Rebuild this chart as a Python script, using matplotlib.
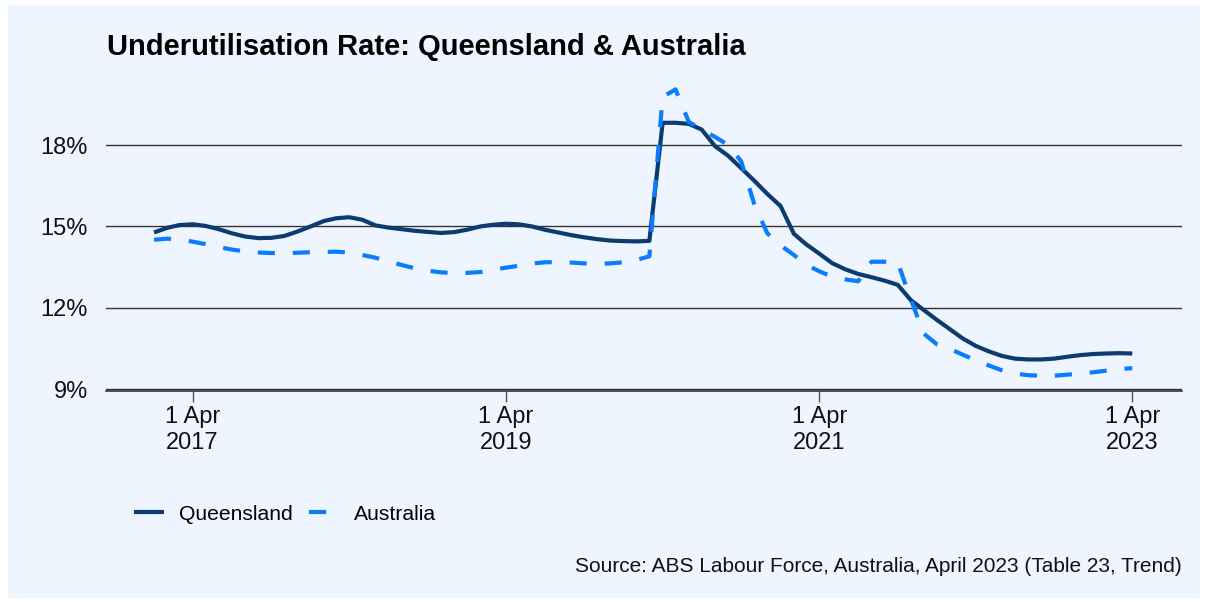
import matplotlib
matplotlib.use('Agg')
import matplotlib.pyplot as plt
from matplotlib.patches import Rectangle
import pandas as pd

# monthly trend data, Jan 2017 - Apr 2023
months = pd.date_range('2017-01-01', '2023-04-01', freq='MS')

queensland = [
    14.78, 14.95, 15.05, 15.08, 15.02, 14.90, 14.75, 14.63, 14.57, 14.58,
    14.65, 14.81, 15.00, 15.20, 15.30, 15.34, 15.25, 15.04, 14.96, 14.90,
    14.84, 14.80, 14.76, 14.79, 14.88, 15.00, 15.06, 15.10, 15.08, 15.00,
    14.88, 14.78, 14.68, 14.60, 14.53, 14.48, 14.46, 14.45, 14.47, 18.82,
    18.82, 18.78, 18.57, 17.96, 17.60, 17.15, 16.68, 16.20, 15.75, 14.73,
    14.35, 14.00, 13.65, 13.42, 13.25, 13.13, 13.00, 12.85, 12.28, 11.92,
    11.55, 11.20, 10.88, 10.60, 10.40, 10.23, 10.13, 10.10, 10.10, 10.13,
    10.20, 10.26, 10.30, 10.32, 10.33, 10.32,
]

australia = [
    14.51, 14.55, 14.52, 14.44, 14.35, 14.24, 14.15, 14.08, 14.04, 14.02,
    14.02, 14.03, 14.05, 14.06, 14.07, 14.04, 13.95, 13.85, 13.72, 13.58,
    13.46, 13.37, 13.31, 13.28, 13.29, 13.32, 13.40, 13.48, 13.55, 13.63,
    13.68, 13.69, 13.67, 13.64, 13.63, 13.64, 13.68, 13.77, 13.90, 19.77,
    20.05, 18.85, 18.58, 18.30, 18.00, 17.40, 15.80, 14.75, 14.30, 13.95,
    13.60, 13.35, 13.15, 13.05, 12.98, 13.70, 13.70, 13.68, 12.30, 11.05,
    10.65, 10.48, 10.28, 10.07, 9.88, 9.70, 9.58, 9.52, 9.50, 9.50,
    9.54, 9.58, 9.63, 9.69, 9.74, 9.78,
]

y_ticks = [9, 12, 15, 18]
x_ticks = ['2017-04-01', '2019-04-01', '2021-04-01', '2023-04-01']

qld_color = '#0C3B6F'
aus_color = '#0A7DFF'
panel_color = '#EEF5FF'


def main():
    plt.rcParams['font.family'] = ['Liberation Sans', 'DejaVu Sans']

    fig = plt.figure(figsize=(12.06, 6.02), dpi=100, facecolor='white')

    # light blue panel behind everything
    fig.patches.append(Rectangle((8 / 1206, 4 / 602), 1192 / 1206, 593 / 602,
                                 transform=fig.transFigure, facecolor=panel_color,
                                 edgecolor='none', zorder=-10))

    ax = fig.add_axes([106 / 1206, 211 / 602, 1076 / 1206, 313 / 602])
    ax.set_facecolor('none')
    ax.set_zorder(1)

    ax.plot(months, queensland, color=qld_color, lw=3, solid_capstyle='butt',
            label='Queensland', clip_on=False, zorder=3)
    ax.plot(months, australia, color=aus_color, lw=3, dashes=(4.1, 4.3),
            dash_capstyle='butt', label='Australia', clip_on=False, zorder=4)

    ax.set_ylim(8.937, 20.47)
    ax.set_xlim(pd.Timestamp('2016-09-11'), pd.Timestamp('2023-07-26'))

    # gridlines
    for v in y_ticks:
        ax.axhline(v, color='#333333', lw=1.0, zorder=1)

    ax.set_yticks(y_ticks)
    ax.set_yticklabels([f'{v}%' for v in y_ticks])
    ax.tick_params(axis='y', length=0, pad=13, labelsize=17, labelcolor='#111111')

    ax.set_xticks([pd.Timestamp(d) for d in x_ticks])
    ax.set_xticklabels([f'1 Apr\n{d[:4]}' for d in x_ticks])
    ax.tick_params(axis='x', length=8, width=1, color='#555555', pad=3,
                   labelsize=17, labelcolor='#111111')

    for s in ['top', 'right', 'left']:
        ax.spines[s].set_visible(False)
    ax.spines['bottom'].set_color('#333333')
    ax.spines['bottom'].set_linewidth(1.2)

    fig.text(107 / 1206, (602 - 55) / 602,
             'Underutilisation Rate: Queensland & Australia',
             fontsize=21, fontweight='bold', ha='left', va='baseline', color='black')

    fig.legend(loc='center left', bbox_to_anchor=(134 / 1206, (602 - 514) / 602),
               ncol=2, frameon=False, fontsize=15.2, handlelength=1.4,
               handletextpad=0.75, columnspacing=0.75, borderpad=0, borderaxespad=0)

    fig.text(1182 / 1206, (602 - 566) / 602,
             'Source: ABS Labour Force, Australia, April 2023 (Table 23, Trend)',
             fontsize=15, ha='right', va='center', color='#111111')

    fig.savefig('out.png', dpi=100, facecolor='white')


if __name__ == '__main__':
    main()
